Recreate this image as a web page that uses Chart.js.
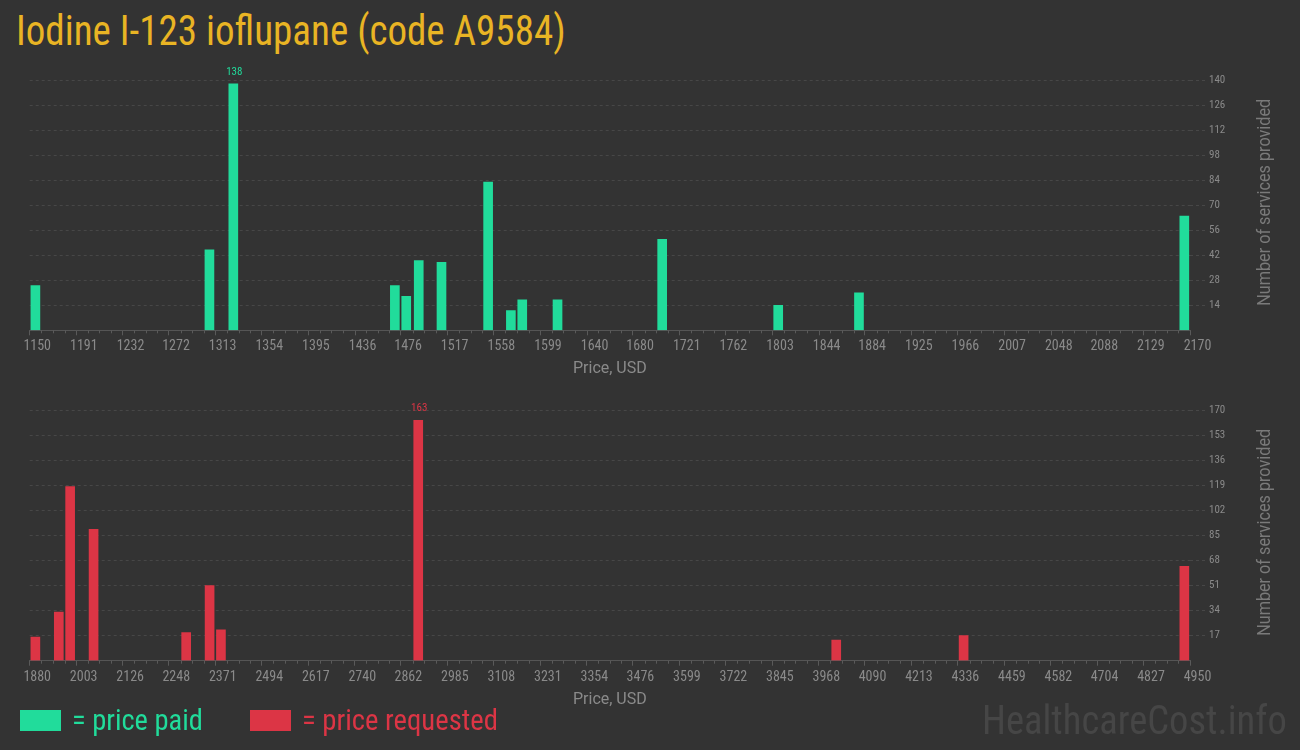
<!DOCTYPE html>
<html>
<head>
<meta charset="utf-8">
<script src="https://cdn.jsdelivr.net/npm/chart.js@4.4.1/dist/chart.umd.min.js"></script>
<style>
  html, body { margin: 0; padding: 0; background: #333333; }
  body { width: 1300px; height: 750px; position: relative; overflow: hidden; font-family: 'Roboto Condensed', Roboto, sans-serif; }
  .box { position: absolute; left: 0; width: 1300px; }
  .txt { position: absolute; white-space: nowrap; transform-origin: 0 0; }
  #title { left: 16px; top: 10px; font-size: 42px; line-height: 42px; color: #e9b424; }
  .swatch { position: absolute; top: 710px; width: 41px; height: 21px; }
  .leg { top: 705px; font-size: 30px; line-height: 30px; }
  #mark { left: 982px; top: 700px; font-size: 41px; line-height: 41px; color: #464646; }
</style>
</head>
<body>
<div id="title" class="txt">Iodine I-123 ioflupane (code A9584)</div>

<div class="box" style="top:0; height:390px;"><canvas id="paid"></canvas></div>
<div class="box" style="top:390px; height:325px;"><canvas id="requested"></canvas></div>

<div class="swatch" style="left:20px; background:#21dc9b;"></div>
<div id="legPaid" class="txt leg" style="left:72px; color:#21dc9b;">= price paid</div>
<div class="swatch" style="left:250px; background:#dc3545;"></div>
<div id="legReq" class="txt leg" style="left:302px; color:#dc3545;">= price requested</div>
<div id="mark" class="txt">HealthcareCost.info</div>

<script>
// price paid histogram (bin centre in USD, number of services)
const paidPrices = [1155, 1308, 1329, 1471, 1481, 1492, 1512, 1553, 1573, 1583, 1614, 1706, 1808, 1879, 2165];
const paidCounts = [25, 45, 138, 25, 19, 39, 38, 83, 11, 17, 17, 51, 14, 21, 64];
const paidTicks = [1150, 1191, 1232, 1272, 1313, 1354, 1395, 1436, 1476, 1517, 1558, 1599, 1640,
                   1680, 1721, 1762, 1803, 1844, 1884, 1925, 1966, 2007, 2048, 2088, 2129, 2170];

// price requested histogram
const reqPrices = [1895, 1957, 1987, 2049, 2294, 2356, 2386, 2908, 4014, 4351, 4935];
const reqCounts = [16, 33, 118, 89, 19, 51, 21, 163, 14, 17, 64];
const reqTicks = [1880, 2003, 2126, 2248, 2371, 2494, 2617, 2740, 2862, 2985, 3108, 3231, 3354,
                  3476, 3599, 3722, 3845, 3968, 4090, 4213, 4336, 4459, 4582, 4704, 4827, 4950];

const GREEN = '#21dc9b';
const RED = '#dc3545';
const NARROW = "'Liberation Sans Narrow', 'Roboto Condensed', 'DejaVu Sans Condensed', sans-serif";
const GRID = '#474747';

// squeeze html text to the width it has in the picture
function squeeze(id, w) {
  const el = document.getElementById(id);
  el.style.transform = 'scaleX(' + (w / el.offsetWidth) + ')';
}
squeeze('title', 550);
squeeze('legPaid', 131);
squeeze('legReq', 196);
squeeze('mark', 305);

// number above the tallest bar
const peakLabel = {
  id: 'peakLabel',
  afterDatasetsDraw(chart) {
    const ds = chart.data.datasets[0];
    const vals = ds.data.map(d => d.y);
    const i = vals.indexOf(Math.max(...vals));
    const bar = chart.getDatasetMeta(0).data[i];
    const ctx = chart.ctx;
    ctx.save();
    ctx.font = '11px ' + NARROW;
    ctx.fillStyle = ds.backgroundColor;
    ctx.textAlign = 'center';
    ctx.textBaseline = 'alphabetic';
    ctx.fillText(String(vals[i]), bar.x + 1, bar.y - 9);
    ctx.restore();
  }
};

// small ticks between the labelled ones (one per bin)
const minorTicks = {
  id: 'minorTicks',
  afterDraw(chart) {
    const xs = chart.scales.x;
    const ctx = chart.ctx;
    const step = (xs.max - xs.min) / 100;
    ctx.save();
    ctx.strokeStyle = '#5a5a5a';
    ctx.lineWidth = 1;
    for (let k = 1; k < 100; k++) {
      if (k % 4 === 0) continue;
      const px = Math.round(xs.getPixelForValue(xs.min + k * step)) + 0.5;
      ctx.beginPath();
      ctx.moveTo(px, xs.top);
      ctx.lineTo(px, xs.top + 3);
      ctx.stroke();
    }
    ctx.restore();
  }
};

// y title reads bottom to top on the right side
const sideTitle = {
  id: 'sideTitle',
  afterDraw(chart) {
    const a = chart.chartArea;
    const ctx = chart.ctx;
    const text = 'Number of services provided';
    ctx.save();
    ctx.font = '18px Roboto';
    const k = 207 / ctx.measureText(text).width;
    ctx.translate(1270, (a.top + a.bottom) / 2 - 3);
    ctx.rotate(-Math.PI / 2);
    ctx.scale(k, 1);
    ctx.fillStyle = '#7a7a7a';
    ctx.textAlign = 'center';
    ctx.textBaseline = 'alphabetic';
    ctx.fillText(text, 0, 0);
    ctx.restore();
  }
};

function makeChart(id, prices, counts, color, xTicks, yMax, yStep, padTop, axisH, titlePad) {
  return new Chart(document.getElementById(id), {
    type: 'bar',
    data: {
      datasets: [{
        data: prices.map((p, i) => ({ x: p, y: counts[i] })),
        backgroundColor: color,
        borderWidth: 0,
        barThickness: 9
      }]
    },
    options: {
      responsive: true,
      maintainAspectRatio: false,
      animation: false,
      layout: { padding: { left: 29.7, top: padTop, right: 0, bottom: 0 } },
      plugins: { legend: { display: false }, tooltip: { enabled: false } },
      scales: {
        x: {
          type: 'linear',
          offset: false,
          min: xTicks[0],
          max: xTicks[xTicks.length - 1],
          afterBuildTicks: s => { s.ticks = xTicks.map(v => ({ value: v })); },
          afterFit: s => { s.height = axisH; },
          ticks: {
            color: '#8a8a8a',
            font: { family: NARROW, size: 14 },
            labelOffset: 7.5,
            padding: 3,
            maxRotation: 0,
            autoSkip: false,
            callback: v => String(v)
          },
          grid: { offset: false, drawOnChartArea: false, drawTicks: true, tickLength: 5, tickColor: '#5a5a5a' },
          border: { color: '#555555' },
          title: {
            display: true,
            text: 'Price, USD',
            color: '#8a8a8a',
            font: { family: 'Roboto', size: 16 },
            padding: { top: 0, bottom: titlePad }
          }
        },
        y: {
          position: 'right',
          min: 0,
          max: yMax,
          afterFit: s => { s.width = 110; },
          ticks: {
            stepSize: yStep,
            color: '#8a8a8a',
            font: { family: NARROW, size: 11 },
            padding: 3,
            callback: v => v === 0 ? '' : String(v)
          },
          grid: {
            color: c => c.tick && c.tick.value === 0 ? 'transparent' : GRID,
            tickColor: c => c.tick && c.tick.value === 0 ? 'transparent' : GRID,
            tickLength: 16,
            tickBorderDash: [3, 3]
          },
          border: { display: false, dash: [3, 3] }
        }
      }
    },
    plugins: [peakLabel, minorTicks, sideTitle]
  });
}

makeChart('paid', paidPrices, paidCounts, GREEN, paidTicks, 140, 14, 80.3, 59.7, 11);
makeChart('requested', reqPrices, reqCounts, RED, reqTicks, 170, 17, 20, 54.3, 5);
</script>
</body>
</html>
